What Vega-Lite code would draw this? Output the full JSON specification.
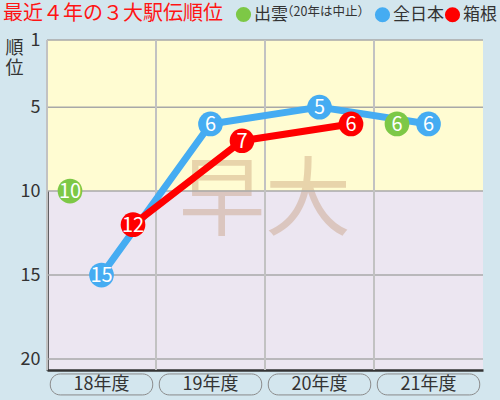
{
  "$schema": "https://vega.github.io/schema/vega-lite/v6.json",
  "width": 436,
  "height": 330,
  "autosize": {"type": "none"},
  "padding": {"left": 47, "top": 40, "right": 17, "bottom": 30},
  "background": "#d3e6ee",
  "title": {
    "text": "最近４年の３大駅伝順位",
    "anchor": "start",
    "frame": "group",
    "dx": -44,
    "offset": 0,
    "dy": 18,
    "fontSize": 20,
    "fontWeight": "normal",
    "color": "#ff1414"
  },
  "datasets": {
    "ranks": [
      {"year": "18年度", "series": "出雲", "rank": 10},
      {"year": "21年度", "series": "出雲", "rank": 6},
      {"year": "18年度", "series": "全日本", "rank": 15},
      {"year": "19年度", "series": "全日本", "rank": 6},
      {"year": "20年度", "series": "全日本", "rank": 5},
      {"year": "21年度", "series": "全日本", "rank": 6},
      {"year": "18年度", "series": "箱根", "rank": 12},
      {"year": "19年度", "series": "箱根", "rank": 7},
      {"year": "20年度", "series": "箱根", "rank": 6}
    ],
    "years": [
      {"year": "18年度"},
      {"year": "19年度"},
      {"year": "20年度"},
      {"year": "21年度"}
    ],
    "gridRanks": [
      {"rank": 1},
      {"rank": 5},
      {"rank": 10},
      {"rank": 15},
      {"rank": 20}
    ],
    "zones": [{"top": 1, "bottom": 10}]
  },
  "data": {"name": "ranks"},
  "layer": [
    {
      "data": {"name": "zones"},
      "mark": {"type": "rect", "color": "#fffcd2"},
      "encoding": {
        "y": {"field": "top", "type": "quantitative",
          "scale": {"domain": [1, 20.655], "reverse": true, "nice": false, "zero": false},
          "axis": {"values": [1, 5, 10, 15, 20], "title": ["順", "位"], "titleAngle": 0, "titleX": -33, "titleY": -1, "titleAlign": "center", "titleBaseline": "top", "titleFontSize": 18, "titleFontWeight": "normal", "titleLineHeight": 20, "titleColor": "#333"}},
        "y2": {"field": "bottom"}
      }
    },
    {
      "data": {"values": [{"label": "早大"}]},
      "mark": {"type": "text", "fontSize": 86, "color": "#be8c64", "opacity": 0.35, "align": "center", "baseline": "middle"},
      "encoding": {
        "x": {"datum": "20年度", "bandPosition": 0,
          "scale": {"type": "band", "domain": ["18年度", "19年度", "20年度", "21年度"], "paddingInner": 0, "paddingOuter": 0},
          "axis": {"labels": false, "title": null}},
        "y": {"datum": 10.7,
          "scale": {"domain": [1, 20.655], "reverse": true, "nice": false, "zero": false}},
        "text": {"field": "label"}
      }
    },
    {
      "data": {"name": "gridRanks"},
      "mark": {"type": "rule", "color": "#a8a8a8", "strokeWidth": 1.5},
      "encoding": {
        "y": {"field": "rank", "type": "quantitative",
          "scale": {"domain": [1, 20.655], "reverse": true, "nice": false, "zero": false},
          "axis": {"values": [1, 5, 10, 15, 20], "title": ["順", "位"], "titleAngle": 0, "titleX": -33, "titleY": -1, "titleAlign": "center", "titleBaseline": "top", "titleFontSize": 18, "titleFontWeight": "normal", "titleLineHeight": 20, "titleColor": "#333"}}
      }
    },
    {
      "data": {"name": "years"},
      "mark": {"type": "rule", "color": "#c2c2c2", "strokeWidth": 2},
      "encoding": {
        "x": {"field": "year", "type": "nominal", "bandPosition": 0,
          "scale": {"type": "band", "domain": ["18年度", "19年度", "20年度", "21年度"], "paddingInner": 0, "paddingOuter": 0},
          "axis": {"labels": false, "title": null}}
      }
    },
    {
      "data": {"name": "years"},
      "mark": {"type": "rect", "fill": "#d3e6ee", "stroke": "#8a8a8a", "strokeWidth": 1, "cornerRadius": 10},
      "encoding": {
        "x": {"field": "year", "type": "nominal", "bandPosition": 0.03,
          "scale": {"type": "band", "domain": ["18年度", "19年度", "20年度", "21年度"], "paddingInner": 0, "paddingOuter": 0},
          "axis": {"labels": false, "title": null}},
        "x2": {"field": "year", "bandPosition": 0.97},
        "y": {"datum": 20.89},
        "y2": {"datum": 22.14}
      }
    },
    {
      "data": {"name": "years"},
      "mark": {"type": "text", "fontSize": 18, "color": "#333", "align": "center", "baseline": "middle"},
      "encoding": {
        "x": {"field": "year", "type": "nominal",
          "scale": {"type": "band", "domain": ["18年度", "19年度", "20年度", "21年度"], "paddingInner": 0, "paddingOuter": 0},
          "axis": {"labels": false, "title": null}},
        "y": {"datum": 21.52},
        "text": {"field": "year"}
      }
    },
    {
      "transform": [{"filter": "datum.series !== '出雲'"}],
      "mark": {"type": "line", "strokeWidth": 7, "strokeJoin": "round"},
      "encoding": {
        "x": {"field": "year", "type": "nominal",
          "scale": {"type": "band", "domain": ["18年度", "19年度", "20年度", "21年度"], "paddingInner": 0, "paddingOuter": 0},
          "axis": {"labels": false, "title": null}},
        "xOffset": {"field": "series", "scale": {"type": "point", "domain": ["出雲", "全日本", "箱根"], "padding": 0.73}},
        "y": {"field": "rank", "type": "quantitative",
          "scale": {"domain": [1, 20.655], "reverse": true, "nice": false, "zero": false}},
        "color": {"field": "series", "type": "nominal",
          "scale": {"domain": ["全日本", "箱根"], "range": ["#45acf2", "#ff0000"]},
          "legend": null}
      }
    },
    {
      "transform": [{"filter": "datum.series === '出雲'"}],
      "mark": {"type": "circle", "size": 610, "opacity": 1},
      "encoding": {
        "x": {"field": "year", "type": "nominal",
          "scale": {"type": "band", "domain": ["18年度", "19年度", "20年度", "21年度"], "paddingInner": 0, "paddingOuter": 0},
          "axis": {"labels": false, "title": null}},
        "xOffset": {"field": "series", "scale": {"type": "point", "domain": ["出雲", "全日本", "箱根"], "padding": 0.73}},
        "y": {"field": "rank", "type": "quantitative",
          "scale": {"domain": [1, 20.655], "reverse": true, "nice": false, "zero": false}},
        "color": {"field": "series", "type": "nominal",
          "scale": {"domain": ["出雲"], "range": ["#7dc846"]},
          "legend": {"orient": "none", "legendX": 188, "legendY": -34, "title": "（20年は中止）", "titleOrient": "right", "titleAnchor": "start", "titleFontSize": 12.5, "titleFontWeight": "normal", "titleColor": "#333", "titlePadding": -7, "titleBaseline": "top", "labelFontSize": 17, "labelColor": "#333", "labelOffset": 2, "symbolType": "circle", "symbolSize": 230, "symbolOpacity": 1, "symbolStrokeWidth": 0, "padding": 0}}
      }
    },
    {
      "transform": [{"filter": "datum.series !== '出雲'"}],
      "mark": {"type": "circle", "size": 610, "opacity": 1},
      "encoding": {
        "x": {"field": "year", "type": "nominal",
          "scale": {"type": "band", "domain": ["18年度", "19年度", "20年度", "21年度"], "paddingInner": 0, "paddingOuter": 0},
          "axis": {"labels": false, "title": null}},
        "xOffset": {"field": "series", "scale": {"type": "point", "domain": ["出雲", "全日本", "箱根"], "padding": 0.73}},
        "y": {"field": "rank", "type": "quantitative",
          "scale": {"domain": [1, 20.655], "reverse": true, "nice": false, "zero": false}},
        "color": {"field": "series", "type": "nominal",
          "scale": {"domain": ["全日本", "箱根"], "range": ["#45acf2", "#ff0000"]},
          "legend": {"orient": "none", "direction": "horizontal", "legendX": 327, "legendY": -34, "title": null, "labelFontSize": 17, "labelColor": "#333", "labelOffset": 2, "columnPadding": -5, "symbolType": "circle", "symbolSize": 230, "symbolOpacity": 1, "symbolStrokeWidth": 0, "padding": 0}}
      }
    },
    {
      "mark": {"type": "text", "fontSize": 20, "color": "white", "align": "center", "baseline": "middle", "dy": 1},
      "encoding": {
        "x": {"field": "year", "type": "nominal",
          "scale": {"type": "band", "domain": ["18年度", "19年度", "20年度", "21年度"], "paddingInner": 0, "paddingOuter": 0},
          "axis": {"labels": false, "title": null}},
        "xOffset": {"field": "series", "scale": {"type": "point", "domain": ["出雲", "全日本", "箱根"], "padding": 0.73}},
        "y": {"field": "rank", "type": "quantitative",
          "scale": {"domain": [1, 20.655], "reverse": true, "nice": false, "zero": false}},
        "text": {"field": "rank"}
      }
    }
  ],
  "resolve": {"scale": {"color": "independent"}},
  "config": {
    "font": "Noto Sans CJK JP",
    "view": {"fill": "#ece6f1", "stroke": null},
    "axis": {"zindex": 1, "grid": false, "ticks": false, "domainColor": "#333", "domainWidth": 2.5, "labelFontSize": 18, "labelColor": "#333", "labelPadding": 7}
  }
}
